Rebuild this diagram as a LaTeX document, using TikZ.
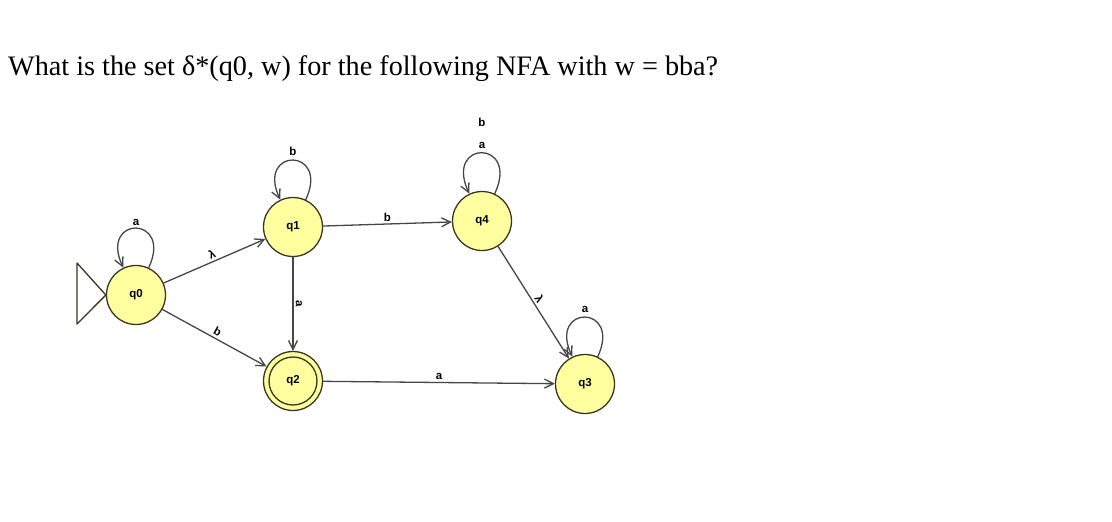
\documentclass[tikz,border=0pt]{standalone}
\usepackage{fontspec}
\setmainfont{Liberation Serif}
\setsansfont{Liberation Sans}
\usetikzlibrary{arrows.meta,positioning}
\definecolor{stfill}{RGB}{255,255,160}
\definecolor{stline}{RGB}{55,55,35}
\definecolor{edgecol}{RGB}{70,70,70}

\begin{document}
\begin{tikzpicture}[x=1pt,y=-1pt,>={Straight Barb[length=9pt,width=9pt]},line join=round,line cap=round,
    state/.style={circle,draw=stline,line width=1.3pt,fill=stfill,minimum size=59pt,inner sep=0pt,font=\sffamily\bfseries\fontsize{11.5}{13}\selectfont},
    trans/.style={->,draw=edgecol,line width=1.3pt},
    lbl/.style={font=\sffamily\bfseries\fontsize{11.5}{13}\selectfont,inner sep=2pt},
    selfloop/.style={trans,out=65,in=115,distance=58pt}]
  \useasboundingbox (0,0) rectangle (1112,522);
  \node[anchor=base west,font=\fontsize{28.2}{32}\selectfont,inner sep=0pt] (title) at (8,75)
    {What is the set δ*(q0, w) for the following NFA with w = bba?};
  % states
  \node[state] (q0) at (136,295) {q0};
  \node[state] (q1) at (293,227) {q1};
  \node[state] (q4) at (482,221) {q4};
  \node[state] (q2) at (293,381) {q2};
  \node[state] (q3) at (585,384) {q3};
  \draw[stline,line width=1.3pt] (q2) circle (24pt);
  % start marker
  \draw[stline,line width=1.3pt] (q0.west) -- (77,263) -- (77,324) -- cycle;
  % loops
  \draw[selfloop] (q0) to node[lbl,above]{a} (q0);
  \draw[selfloop] (q1) to node[lbl,above=2pt]{b} (q1);
  \draw[selfloop,distance=60pt] (q4) to node[lbl,above=2pt](la){a} (q4);
  \node[lbl,above=10pt of la.north,anchor=south] (lb) {b};
  \draw[selfloop] (q3) to node[lbl,above=2pt]{a} (q3);
  % transitions
  \draw[trans] (q0) -- node[lbl,sloped,above]{λ} (q1);
  \draw[trans] (q0) -- node[lbl,sloped,above]{b} (q2);
  \draw[trans] (q1) -- node[lbl,sloped,above]{a} (q2);
  \draw[trans] (q1) -- node[lbl,above]{b} (q4);
  \draw[trans] (q2) -- node[lbl,above]{a} (q3);
  \draw[trans] (q4) -- node[lbl,sloped,above]{λ} (q3);
\end{tikzpicture}
\end{document}
